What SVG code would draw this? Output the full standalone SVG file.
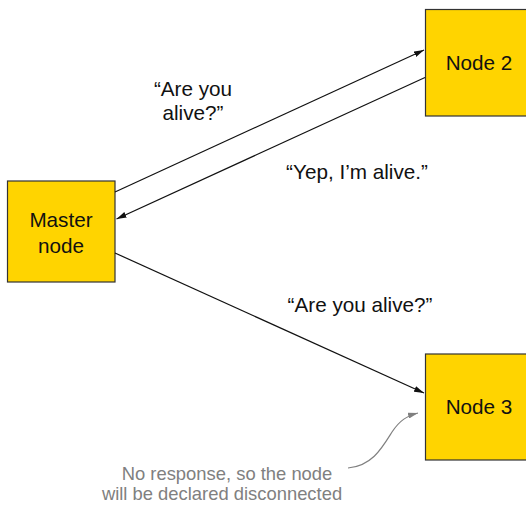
<svg xmlns="http://www.w3.org/2000/svg" width="526" height="505" viewBox="0 0 526 505">
<style>
.box{fill:#FFD400;stroke:#333;stroke-width:1.2}
.t{font-family:"Liberation Sans",Arial,sans-serif;font-size:20.7px;fill:#111;text-anchor:middle}
.g{font-family:"Liberation Sans",Arial,sans-serif;font-size:18.4px;fill:#808080;text-anchor:middle}
.ln{stroke:#111;stroke-width:1.2;fill:none}
.gl{stroke:#808080;stroke-width:1.2;fill:none}
</style>
<defs>
<marker id="ah" viewBox="0 0 10 6" refX="10" refY="3" markerWidth="10" markerHeight="6" markerUnits="userSpaceOnUse" orient="auto">
<path d="M0,0 L10,3 L0,6 z" fill="#111"/>
</marker>
<marker id="ahg" viewBox="0 0 10 6" refX="10" refY="3" markerWidth="10" markerHeight="6" markerUnits="userSpaceOnUse" orient="auto">
<path d="M0,0 L10,3 L0,6 z" fill="#808080"/>
</marker>
</defs>
<g id="master">
<rect class="box" x="7.5" y="181" width="107.5" height="101"/>
<text class="t" x="61" y="227">Master</text>
<text class="t" x="61" y="253">node</text>
</g>
<g id="node2">
<rect class="box" x="425.5" y="9.5" width="110" height="106.5"/>
<text class="t" x="479" y="70">Node 2</text>
</g>
<g id="node3">
<rect class="box" x="425.5" y="354" width="110" height="106"/>
<text class="t" x="479" y="414">Node 3</text>
</g>
<g id="connectors">
<line class="ln" x1="115" y1="192" x2="424" y2="50" marker-end="url(#ah)"/>
<line class="ln" x1="425" y1="77.5" x2="116.5" y2="219" marker-end="url(#ah)"/>
<line class="ln" x1="115" y1="253" x2="424" y2="393" marker-end="url(#ah)"/>
<path class="gl" d="M348,468 C372,466 382,448 392,432 C400,420 407,416 418,413" marker-end="url(#ahg)"/>
</g>
<g id="labels">
<text class="t" x="193" y="96">“Are you</text>
<text class="t" x="193" y="120">alive?”</text>
<text class="t" x="357" y="179">“Yep, I’m alive.”</text>
<text class="t" x="360" y="312">“Are you alive?”</text>
<text class="g" x="227" y="480">No response, so the node</text>
<text class="g" x="222" y="500">will be declared disconnected</text>
</g>
</svg>
